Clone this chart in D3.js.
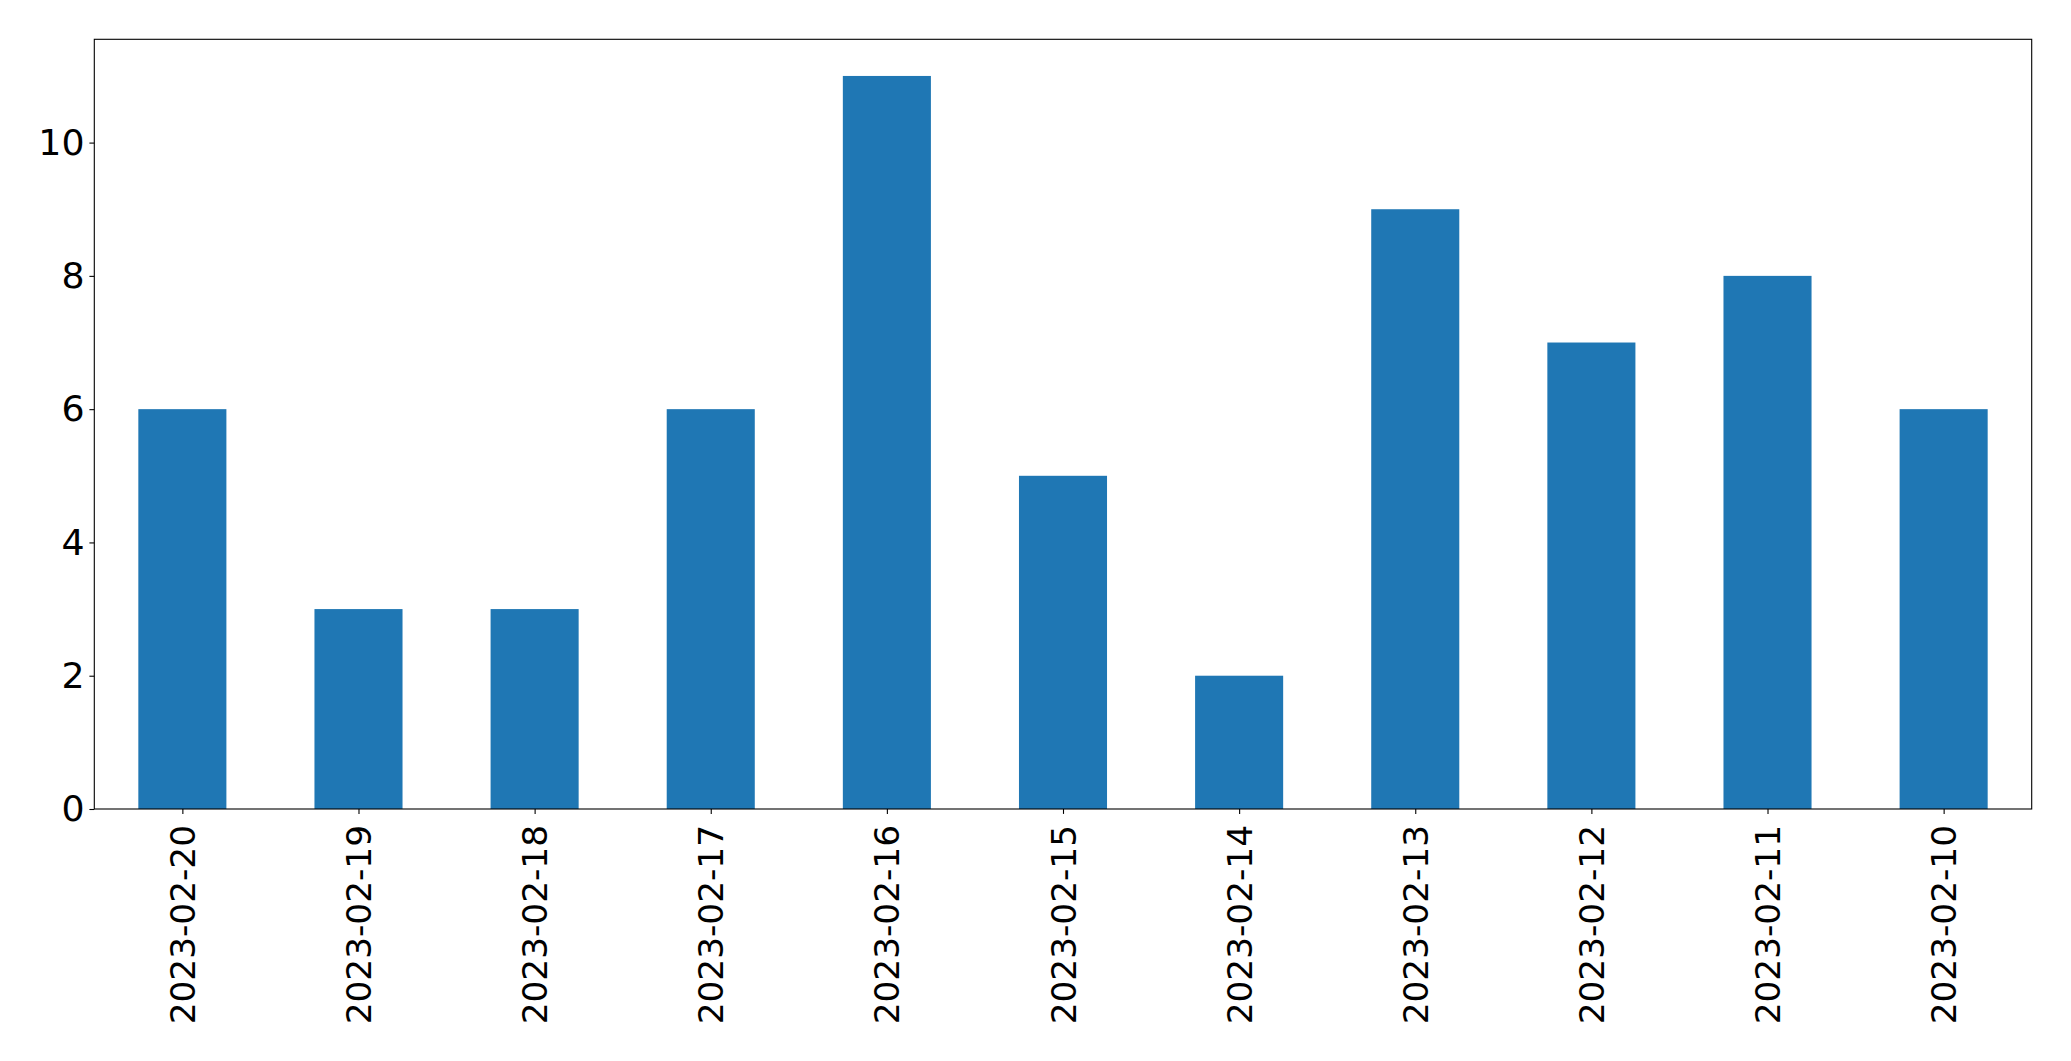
<!DOCTYPE html>
<html><head><meta charset="utf-8">
<script src="https://cdn.jsdelivr.net/npm/d3@7"></script>
<style>body{margin:0;background:#fff}svg{display:block}</style>
</head><body>
<script>
const categories = ["2023-02-20","2023-02-19","2023-02-18","2023-02-17","2023-02-16","2023-02-15","2023-02-14","2023-02-13","2023-02-12","2023-02-11","2023-02-10"];
const values = [6,3,3,6,11,5,2,9,7,8,6];
const yTicks = [0,2,4,6,8,10];

const W = 2071, H = 1061;
const mLeft = 94.3, mRight = 2031.7, mTop = 39.3, mBottom = 809;
const yFont = 36.3, xFont = 34.3;

const svg = d3.select("body").append("svg").attr("width", W).attr("height", H);

const x = d3.scaleLinear().domain([-0.5, categories.length - 0.5]).range([mLeft, mRight]);
const y = d3.scaleLinear().domain([0, d3.max(values) * 1.05]).range([mBottom, mTop]);

svg.append("g").selectAll("rect").data(values).join("rect")
  .attr("x", (d, i) => x(i - 0.25))
  .attr("width", (d, i) => x(i + 0.25) - x(i - 0.25))
  .attr("y", d => y(d))
  .attr("height", d => y(0) - y(d))
  .attr("fill", "#1f77b4");

const yAxis = svg.append("g").attr("transform", `translate(${mLeft},0)`)
  .call(d3.axisLeft(y).tickValues(yTicks).tickSize(4.9).tickPadding(4.9).tickFormat(d3.format("d")));
yAxis.select(".domain").remove();
yAxis.selectAll("line").attr("stroke", "#000").attr("stroke-width", 1.1);
yAxis.selectAll("text").attr("font-family", "DejaVu Sans").attr("font-size", yFont).attr("fill", "#000");

const xAxis = svg.append("g").attr("transform", `translate(0,${mBottom})`)
  .call(d3.axisBottom(x).tickValues(d3.range(categories.length)).tickSize(4.9).tickFormat(i => categories[i]));
xAxis.select(".domain").remove();
xAxis.selectAll("line").attr("stroke", "#000").attr("stroke-width", 1.1);
xAxis.selectAll("text")
  .attr("font-family", "DejaVu Sans").attr("font-size", xFont).attr("fill", "#000")
  .attr("text-anchor", "end").attr("dy", null).attr("y", 0)
  .attr("transform", "translate(0,16) rotate(-90)")
  .attr("dominant-baseline", "central");

svg.append("rect").attr("x", mLeft).attr("y", mTop).attr("width", mRight - mLeft).attr("height", mBottom - mTop)
  .attr("fill", "none").attr("stroke", "#000").attr("stroke-width", 1.1);
</script>
</body></html>
